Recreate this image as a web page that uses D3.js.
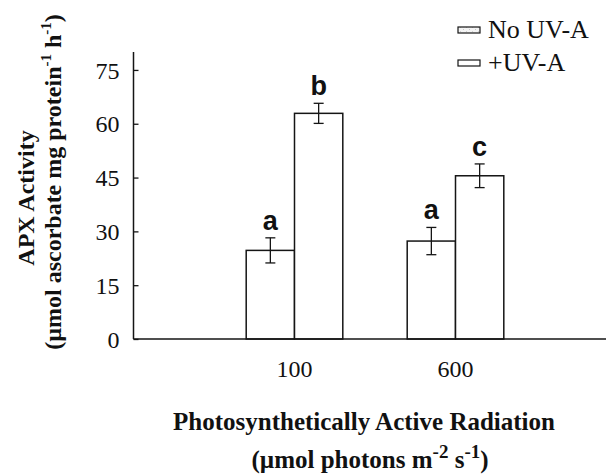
<!DOCTYPE html>
<html>
<head>
<meta charset="utf-8">
<script src="https://cdn.jsdelivr.net/npm/d3@7/dist/d3.min.js"></script>
<style>
  html, body { margin: 0; padding: 0; background: #fff; }
  svg { display: block; }
  text { fill: #111; }
</style>
</head>
<body>
<svg id="chart" width="606" height="475"></svg>
<script>
// PAR levels on the x axis
const categories = ["100", "600"];
// treatments (legend order)
const series = ["No UV-A", "+UV-A"];
// APX activity means per PAR level, one array per treatment
const noUVA = [24.7, 27.3];
const plusUVA = [62.9, 45.5];
// standard errors
const noUVAErr = [3.5, 3.8];
const plusUVAErr = [2.8, 3.3];
// significance letters
const noUVALetters = ["a", "a"];
const plusUVALetters = ["b", "c"];
// y axis ticks
const yTicks = [0, 15, 30, 45, 60, 75];

const values = [noUVA, plusUVA];
const errs = [noUVAErr, plusUVAErr];
const letters = [noUVALetters, plusUVALetters];

const svg = d3.select("#chart");
const serif = "'Liberation Serif', 'Times New Roman', serif";
const sans = "'Liberation Sans', Arial, sans-serif";
const ink = "#151515";

const axisX0 = 133.5, axisX1 = 606, baseY = 339;

const y = d3.scaleLinear().domain([0, 80]).range([baseY, 52]);
const x0 = d3.scaleBand().domain(categories).range([214, 536])
  .paddingInner(0.4).paddingOuter(0.2);
const x1 = d3.scaleBand().domain(series).range([0, x0.bandwidth()]);

// legend swatch texture for the first series
const defs = svg.append("defs");
const pat = defs.append("pattern").attr("id", "speckle")
  .attr("patternUnits", "userSpaceOnUse").attr("width", 6).attr("height", 4);
pat.append("rect").attr("width", 6).attr("height", 4).attr("fill", "#f4f4f4");
pat.append("rect").attr("x", 1).attr("y", 1).attr("width", 1).attr("height", 1).attr("fill", "#c8c8c8");
pat.append("rect").attr("x", 4).attr("y", 3).attr("width", 1).attr("height", 1).attr("fill", "#d0d0d0");

// y axis
const yAxis = d3.axisLeft(y).tickValues(yTicks).tickSize(-5).tickPadding(14)
  .tickFormat(d3.format("d"));
const gy = svg.append("g").attr("transform", `translate(${axisX0},0)`).call(yAxis);
gy.select(".domain").remove();
gy.selectAll(".tick line").attr("stroke", ink).attr("stroke-width", 1.3);
gy.selectAll(".tick text").attr("font-family", serif).attr("font-size", 24)
  .attr("fill", ink).attr("dy", "0.34em");
svg.append("line").attr("x1", axisX0).attr("x2", axisX0)
  .attr("y1", y(80)).attr("y2", baseY).attr("stroke", ink).attr("stroke-width", 1.5);

// bars
const groups = svg.append("g").selectAll("g").data(categories).join("g")
  .attr("transform", d => `translate(${x0(d)},0)`);

series.forEach((s, si) => {
  groups.append("rect")
    .attr("x", x1(s))
    .attr("y", (d, i) => y(values[si][i]))
    .attr("width", x1.bandwidth())
    .attr("height", (d, i) => baseY - y(values[si][i]))
    .attr("fill", "#fff").attr("stroke", ink).attr("stroke-width", 1.5);
});

// error bars and letters
series.forEach((s, si) => {
  const cx = x1(s) + x1.bandwidth() / 2;
  groups.each(function (d, i) {
    const g = d3.select(this);
    const v = values[si][i], e = errs[si][i];
    g.append("line").attr("x1", cx).attr("x2", cx)
      .attr("y1", y(v + e)).attr("y2", y(v - e))
      .attr("stroke", ink).attr("stroke-width", 1.3);
    [v + e, v - e].forEach(t => {
      g.append("line").attr("x1", cx - 5).attr("x2", cx + 5)
        .attr("y1", y(t)).attr("y2", y(t))
        .attr("stroke", ink).attr("stroke-width", 1.3);
    });
    g.append("text").attr("x", cx).attr("y", y(v + e) - 8)
      .attr("text-anchor", "middle").attr("font-family", sans)
      .attr("font-weight", "bold").attr("font-size", 27).attr("fill", ink)
      .text(letters[si][i]);
  });
});

// x axis
svg.append("line").attr("x1", axisX0).attr("x2", axisX1)
  .attr("y1", baseY).attr("y2", baseY).attr("stroke", ink).attr("stroke-width", 1.5);
const xAxis = d3.axisBottom(x0).tickSize(0).tickPadding(0);
const gx = svg.append("g").attr("transform", `translate(0,${baseY})`).call(xAxis);
gx.select(".domain").remove();
gx.selectAll(".tick text").attr("font-family", serif).attr("font-size", 24)
  .attr("fill", ink).attr("dy", null).attr("y", 38);

// legend
const legend = svg.append("g");
series.forEach((s, i) => {
  const ly = 30 + i * 33;
  legend.append("rect").attr("x", 458).attr("y", ly - 3).attr("width", 22).attr("height", 6)
    .attr("fill", i === 0 ? "url(#speckle)" : "#fff")
    .attr("stroke", ink).attr("stroke-width", 1.2);
  legend.append("text").attr("x", 488).attr("y", ly + 8)
    .attr("font-family", serif).attr("font-size", 26).attr("fill", ink)
    .text(s);
});

// y title
const yTitle = svg.append("g").attr("font-family", serif).attr("font-weight", "bold")
  .attr("font-size", 24).attr("text-anchor", "middle");
yTitle.append("text").attr("transform", "translate(34,198) rotate(-90)")
  .text("APX Activity");
const yt2 = yTitle.append("text").attr("transform", "translate(61,182) rotate(-90)");
yt2.append("tspan").text("(µmol ascorbate mg protein");
yt2.append("tspan").attr("font-size", 15).attr("dy", -10).text("-1");
yt2.append("tspan").attr("dy", 10).text(" h");
yt2.append("tspan").attr("font-size", 15).attr("dy", -10).text("-1");
yt2.append("tspan").attr("dy", 10).text(")");

// x title
const xTitle = svg.append("g").attr("font-family", serif).attr("font-weight", "bold")
  .attr("font-size", 25).attr("text-anchor", "middle");
xTitle.append("text").attr("x", 364).attr("y", 430)
  .text("Photosynthetically Active Radiation");
const xt2 = xTitle.append("text").attr("x", 370).attr("y", 468);
xt2.append("tspan").text("(µmol photons m");
xt2.append("tspan").attr("font-size", 19).attr("dy", -10).text("-2");
xt2.append("tspan").attr("dy", 10).text(" s");
xt2.append("tspan").attr("font-size", 19).attr("dy", -10).text("-1");
xt2.append("tspan").attr("dy", 10).text(")");
</script>
</body>
</html>
